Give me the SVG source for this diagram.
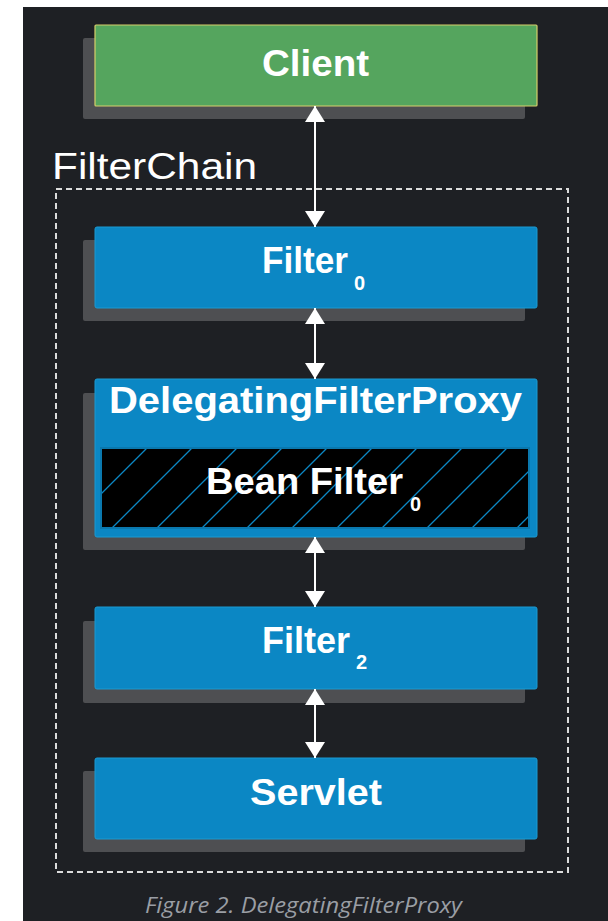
<svg xmlns="http://www.w3.org/2000/svg" width="608" height="921" viewBox="0 0 608 921">
  <style>
    .shadow { fill: #4e4f52; }
    .blue { fill: #0b87c4; stroke: #1b9ad2; stroke-width: 1; }
    .green { fill: #55a55e; stroke: #d6cf6a; stroke-width: 1.2; }
    .label { font-family: "Liberation Sans", Arial, sans-serif; font-weight: bold; font-size: 36px; fill: #ffffff; }
    .sub { font-family: "Liberation Sans", Arial, sans-serif; font-weight: bold; font-size: 20px; fill: #ffffff; }
    .title { font-family: "Liberation Sans", Arial, sans-serif; font-size: 37px; fill: #ffffff; }
    .caption { font-family: "Open Sans", "Liberation Sans", sans-serif; font-style: italic; font-size: 22px; fill: #9a9ea4; }
    .link { stroke: #ffffff; stroke-width: 2; fill: none; marker-start: url(#head); marker-end: url(#head); }
  </style>
  <defs>
    <marker id="head" markerUnits="userSpaceOnUse" markerWidth="17" markerHeight="22" refX="16" refY="11" orient="auto-start-reverse" viewBox="0 0 17 22">
      <path d="M0,1 L16,11 L0,21 Z" fill="#ffffff"/>
    </marker>
    <pattern id="hatch" patternUnits="userSpaceOnUse" width="45" height="45" patternTransform="translate(10,0)">
      <path d="M-5,5 L5,-5 M0,45 L45,0 M40,50 L50,40" stroke="#0b87c4" stroke-width="1.3"/>
    </pattern>
  </defs>

  <!-- page background -->
  <rect x="0" y="0" width="608" height="921" fill="#ffffff"/>
  <rect x="23" y="7" width="585" height="914" fill="#1e2024"/>

  <!-- filter chain boundary -->
  <g id="filterchain">
    <rect x="56" y="189" width="512" height="683" fill="none" stroke="#dcdcdc" stroke-width="2" stroke-dasharray="6 4"/>
    <text class="title" x="52" y="179" textLength="205" lengthAdjust="spacingAndGlyphs">FilterChain</text>
  </g>

  <g id="client">
    <rect class="shadow" x="83" y="38" width="442" height="81" rx="2"/>
    <rect class="green" x="95" y="25" width="442" height="81" rx="1"/>
    <text class="label" x="262" y="76" textLength="107" lengthAdjust="spacingAndGlyphs">Client</text>
  </g>

  <g id="filter0">
    <rect class="shadow" x="83" y="240" width="442" height="81" rx="2"/>
    <rect class="blue" x="95" y="227" width="442" height="81" rx="2"/>
    <text class="label" x="262" y="273" textLength="86" lengthAdjust="spacingAndGlyphs">Filter</text>
    <text class="sub" x="354" y="290">0</text>
  </g>

  <g id="delegating">
    <rect class="shadow" x="83" y="393" width="442" height="157" rx="2"/>
    <rect class="blue" x="95" y="379" width="442" height="158" rx="2"/>
    <text class="label" x="109" y="413" textLength="413" lengthAdjust="spacingAndGlyphs">DelegatingFilterProxy</text>
    <g id="beanfilter">
      <rect x="101" y="448" width="428" height="80" fill="#000000"/>
      <rect x="101" y="448" width="428" height="80" fill="url(#hatch)" stroke="#0a78ae" stroke-width="2"/>
      <text class="label" x="206" y="494" textLength="197" lengthAdjust="spacingAndGlyphs">Bean Filter</text>
      <text class="sub" x="410" y="511">0</text>
    </g>
  </g>

  <g id="filter2">
    <rect class="shadow" x="83" y="621" width="442" height="82" rx="2"/>
    <rect class="blue" x="95" y="607" width="442" height="82" rx="2"/>
    <text class="label" x="262" y="653" textLength="88" lengthAdjust="spacingAndGlyphs">Filter</text>
    <text class="sub" x="356" y="669">2</text>
  </g>

  <g id="servlet">
    <rect class="shadow" x="83" y="771" width="442" height="81" rx="2"/>
    <rect class="blue" x="95" y="758" width="442" height="81" rx="2"/>
    <text class="label" x="250" y="805" textLength="132" lengthAdjust="spacingAndGlyphs">Servlet</text>
  </g>

  <!-- two-way links between neighbouring stages -->
  <g id="connectors">
    <line class="link" x1="315" y1="106" x2="315" y2="227"/>
    <line class="link" x1="315" y1="308" x2="315" y2="379"/>
    <line class="link" x1="315" y1="537" x2="315" y2="607"/>
    <line class="link" x1="315" y1="689" x2="315" y2="758"/>
  </g>

  <text class="caption" x="145" y="913" textLength="317" lengthAdjust="spacingAndGlyphs">Figure 2. DelegatingFilterProxy</text>
</svg>
